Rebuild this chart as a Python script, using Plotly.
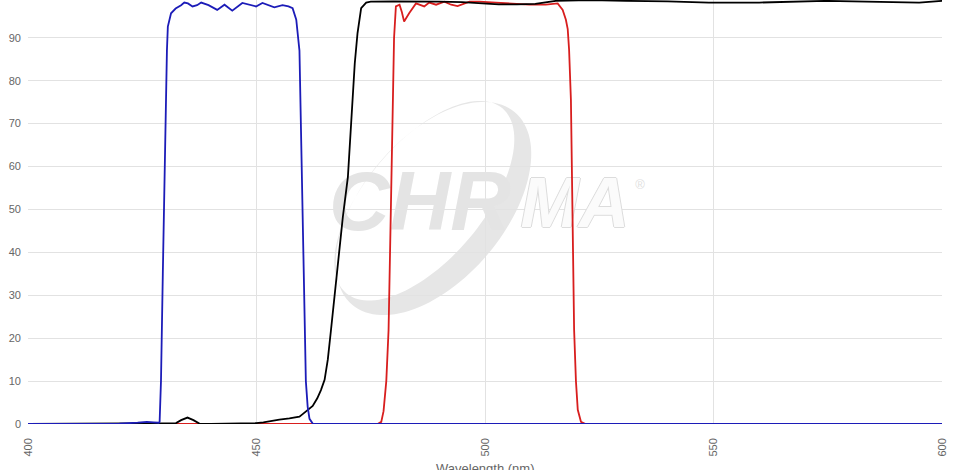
import numpy as np
import plotly.graph_objects as go

# ---------------- data ----------------
blue_x = [400, 410, 420, 424, 426, 427.5, 428.6, 428.8, 429.1, 429.5, 429.9, 430.2, 430.4, 430.6,
          431.3, 432.3, 433.5, 434.2, 435.0, 436.0, 437.0, 437.9, 439.5, 441.4, 443.0, 444.7,
          446.9, 448.5, 449.9, 451.3, 452.8, 453.9, 455.7, 457.0, 457.9, 458.7, 459.4, 459.6,
          460.0, 460.5, 460.8, 461.2, 461.6, 462.3, 463, 600]
blue_y = [0, 0.05, 0.1, 0.3, 0.5, 0.4, 0.3, 0.5, 10, 35, 63.8, 75.5, 87, 92.6,
          95.7, 96.8, 97.6, 98.2, 98.0, 97.3, 97.6, 98.2, 97.6, 96.5, 97.7, 96.3,
          98.1, 97.6, 97.3, 98.1, 97.6, 97.1, 97.6, 97.3, 96.9, 94.2, 87, 75,
          50, 22, 10, 4, 1.2, 0.1, 0, 0]

black_x = [400, 420, 428, 431, 432.4, 433.5, 434.9, 436.2, 437.5, 440, 446, 449.9, 451.5,
           453.5, 455.0, 457.2, 459.4, 460.1, 461.0, 462.3, 463.3, 464.1, 464.9, 465.6,
           466.3, 467.2, 468.1, 468.9, 470.0, 471.0, 471.5, 472.1, 472.9, 474.0, 475,
           480, 485, 490, 495, 499.5, 503, 507, 511, 515.5, 523, 530.8, 540, 549, 560,
           574.6, 589.2, 595, 600]
black_y = [0, 0.1, 0.2, 0.1, 0.2, 0.9, 1.5, 0.9, 0.1, 0, 0.05, 0.2, 0.4,
           0.8, 1.0, 1.3, 1.7, 2.3, 3.0, 4.2, 6.0, 7.9, 10.3, 15,
           21.9, 31, 40.6, 48.3, 57.6, 75.5, 84, 91, 96.9, 98.2, 98.4,
           98.5, 98.5, 98.4, 98.3, 98.1, 97.8, 97.8, 97.9, 98.6, 98.8, 98.6, 98.5, 98.2, 98.2,
           98.6, 98.4, 98.2, 98.6]

red_x = [400, 476.5, 477.3, 477.8, 478.4, 478.9, 479.4, 479.8, 480.1, 480.5, 481.3, 481.8,
         482.3, 483.4, 484.9, 486.7, 487.8, 489.3, 491.1, 492.6, 494.0, 496.6, 498.8,
         502.4, 506.0, 509.7, 513.3, 515.9, 517.0, 517.7, 518.1, 518.4, 518.8, 519.5,
         519.9, 520.3, 521.0, 522, 600]
red_y = [0, 0, 0.5, 3, 10, 21.9, 50, 75.5, 90, 97.3, 97.7, 96,
         93.8, 95.7, 98.0, 97.3, 98.2, 97.7, 98.4, 97.7, 97.4, 98.4, 98.4,
         98.2, 97.9, 97.7, 97.7, 98.0, 96.5, 94.2, 92, 87.2, 75.5, 21.9,
         10, 3.3, 0.5, 0, 0]

x_ticks = [400, 450, 500, 550, 600]
y_ticks = [0, 10, 20, 30, 40, 50, 60, 70, 80, 90]
x_title = "Wavelength (nm)"

# ---------------- layout geometry helpers (watermark only) ----------------
L, R, T, B = 28, 15, 0, 46
W, H = 957, 470
X0, X1 = 400, 600
Y0, Y1 = 0, 98.8
pw, ph = W - L - R, H - T - B


def px2data(px, py):
    return X0 + (px - L) / pw * (X1 - X0), Y0 + (T + ph - py) / ph * (Y1 - Y0)


def ellipse_path(cx, cy, a, b, ang_deg, n=120):
    th = np.radians(ang_deg)
    u = np.array([np.cos(th), -np.sin(th)])   # screen coords (y down)
    v = np.array([np.sin(th), np.cos(th)])
    t = np.linspace(0, 2 * np.pi, n, endpoint=False)
    pts = [np.array([cx, cy]) + a * np.cos(k) * u + b * np.sin(k) * v for k in t]
    d = []
    for i, p in enumerate(pts):
        xd, yd = px2data(p[0], p[1])
        d.append(("M" if i == 0 else "L") + f"{xd:.4f},{yd:.4f}")
    return " ".join(d) + " Z"


ang = 49.8
cx, cy = 433.5, 208.5
shift = -12
vx, vy = np.sin(np.radians(ang)), np.cos(np.radians(ang))
swoosh = ellipse_path(cx, cy, 126, 71, ang) + " " + ellipse_path(cx + shift * vx, cy + shift * vy, 121, 58.5, ang)

fig = go.Figure()

wm_font = "Liberation Sans Narrow, Arial Narrow, Liberation Sans, Arial"
cx1, cy1 = px2data(420, 209)
cx2, cy2 = px2data(575, 209)
cx3, cy3 = px2data(640, 186)
fig.add_trace(go.Scatter(x=[cx1], y=[cy1], mode="text", text=["CHR"], hoverinfo="skip", showlegend=False,
                         textfont=dict(family=wm_font, size=84, color="#e4e4e4", weight="bold", style="italic")))
fig.add_trace(go.Scatter(x=[cx2], y=[cy2], mode="text", text=["MA"], hoverinfo="skip", showlegend=False,
                         textfont=dict(family=wm_font, size=70, color="#fbfbfb", weight="bold", style="italic",
                                       shadow="1px 0 0 #dcdcdc, -1px 0 0 #dcdcdc, 0 1px 0 #dcdcdc, 0 -1px 0 #dcdcdc")))
fig.add_trace(go.Scatter(x=[cx3], y=[cy3], mode="text", text=["®"], hoverinfo="skip", showlegend=False,
                         textfont=dict(family="Liberation Sans", size=13, color="#e0e0e0")))

fig.add_trace(go.Scatter(x=red_x, y=red_y, mode="lines", line=dict(color="#d81e1e", width=1.8),
                         showlegend=False, name="Emission"))
fig.add_trace(go.Scatter(x=black_x, y=black_y, mode="lines", line=dict(color="#000000", width=1.8),
                         showlegend=False, name="Dichroic"))
fig.add_trace(go.Scatter(x=blue_x, y=blue_y, mode="lines", line=dict(color="#1c1cb8", width=1.8),
                         showlegend=False, name="Excitation"))

fig.add_shape(type="path", path=swoosh, xref="x", yref="y", fillcolor="#e6e6e6",
              line=dict(width=0), layer="below", fillrule="evenodd")

# x-axis title as annotation so it can sit partly below the page edge like the reference
fig.add_annotation(text=x_title, xref="paper", yref="paper", x=0.5, y=-(460 - ph) / ph,
                   xanchor="center", yanchor="top", showarrow=False, borderpad=0,
                   font=dict(size=13, color="#666666", family="Liberation Sans, Arial"))

fig.update_layout(
    width=W, height=H,
    margin=dict(l=L, r=R, t=T, b=B, pad=0),
    paper_bgcolor="white", plot_bgcolor="white",
    font=dict(family="Liberation Sans, Arial", color="#666666"),
    template="none",
)
fig.update_xaxes(range=[X0, X1], tickvals=x_ticks, ticktext=[str(v) for v in x_ticks], tickangle=-90,
                 showgrid=True, gridcolor="#e2e2e2", gridwidth=1, zeroline=False, showline=False,
                 ticks="", tickfont=dict(size=11, color="#666666"), automargin=False,
                 ticklabelstandoff=11)
fig.update_yaxes(range=[Y0, Y1], tickvals=y_ticks, showgrid=True, gridcolor="#e2e2e2", gridwidth=1,
                 zeroline=False, showline=False, ticks="", tickfont=dict(size=11, color="#666666"),
                 automargin=False, ticklabelstandoff=6)

fig.write_html("out.html", config={"displayModeBar": False},
               post_script="document.body.style.margin='0';document.body.style.overflow='hidden';")
